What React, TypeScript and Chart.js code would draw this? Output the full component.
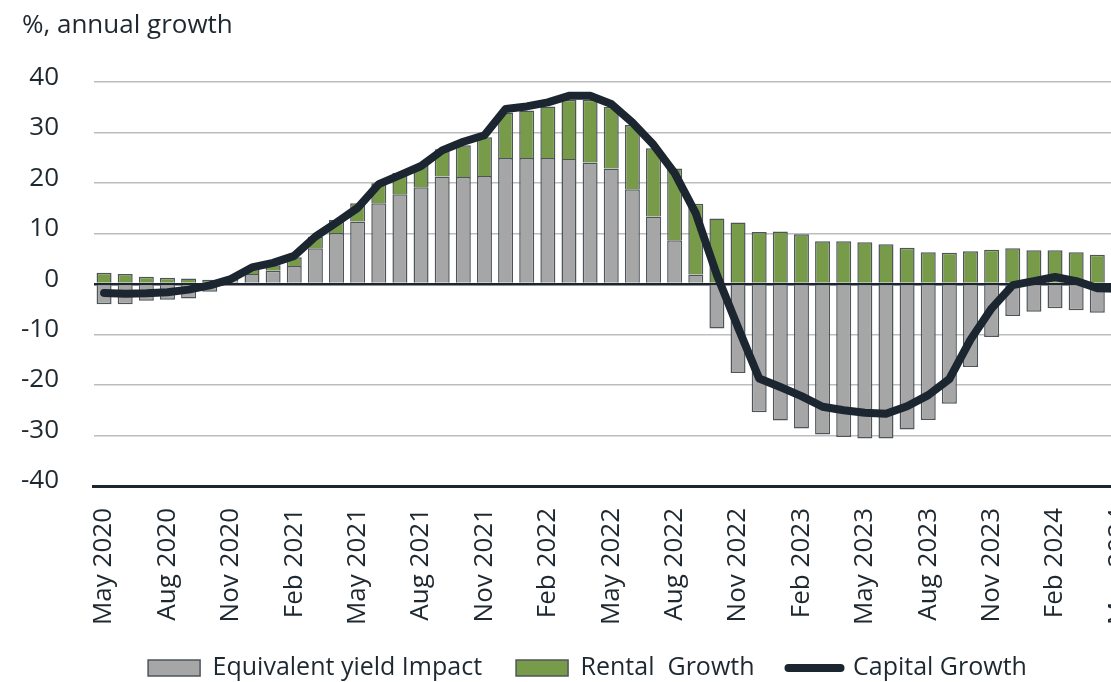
import React, { useEffect, useRef } from "react";
import { Chart, registerables } from "chart.js";

Chart.register(...registerables);

const months = [
  "May 2020", "Jun 2020", "Jul 2020", "Aug 2020", "Sep 2020", "Oct 2020", "Nov 2020", "Dec 2020",
  "Jan 2021", "Feb 2021", "Mar 2021", "Apr 2021", "May 2021", "Jun 2021", "Jul 2021", "Aug 2021",
  "Sep 2021", "Oct 2021", "Nov 2021", "Dec 2021", "Jan 2022", "Feb 2022", "Mar 2022", "Apr 2022",
  "May 2022", "Jun 2022", "Jul 2022", "Aug 2022", "Sep 2022", "Oct 2022", "Nov 2022", "Dec 2022",
  "Jan 2023", "Feb 2023", "Mar 2023", "Apr 2023", "May 2023", "Jun 2023", "Jul 2023", "Aug 2023",
  "Sep 2023", "Oct 2023", "Nov 2023", "Dec 2023", "Jan 2024", "Feb 2024", "Mar 2024", "Apr 2024",
  "May 2024",
];

const yieldImpact = [
  -4.0, -4.0, -3.3, -3.1, -2.85, -1.5, 0.45, 2.0, 2.65, 3.6,
  7.1, 10.1, 12.4, 16.0, 17.8, 19.2, 21.3, 21.2, 21.4, 25.0,
  25.0, 25.0, 24.8, 24.1, 22.9, 18.8, 13.4, 8.7, 1.9, -8.8,
  -17.6, -25.4, -27.0, -28.6, -29.8, -30.3, -30.6, -30.6, -28.8, -26.9,
  -23.7, -16.4, -10.5, -6.3, -5.5, -4.8, -5.2, -5.7, -5.6,
];

const rentalGrowth = [
  2.25, 2.0, 1.45, 1.25, 1.1, 0.85, 0.65, 1.0, 1.1, 1.7,
  2.3, 2.6, 3.6, 4.0, 4.2, 4.4, 5.4, 6.3, 7.7, 9.0,
  9.4, 10.2, 11.7, 12.4, 12.2, 12.7, 13.5, 14.2, 14.0, 13.0,
  12.2, 10.3, 10.4, 9.9, 8.5, 8.5, 8.3, 7.9, 7.2, 6.3,
  6.2, 6.5, 6.8, 7.1, 6.7, 6.7, 6.3, 5.8, 5.6,
];

const capitalGrowth = [
  -1.75, -1.9, -1.8, -1.6, -1.1, -0.25, 1.0, 3.3, 4.2, 5.6,
  9.4, 12.2, 15.1, 19.8, 21.6, 23.4, 26.5, 28.2, 29.5, 34.7,
  35.2, 36.0, 37.3, 37.3, 35.7, 32.0, 27.6, 22.0, 14.0, 1.8,
  -8.6, -18.7, -20.4, -22.2, -24.3, -25.0, -25.5, -25.7, -24.2, -22.0,
  -18.8, -11.0, -4.8, -0.2, 0.6, 1.4, 0.6, -0.8, -0.9,
];

const seriesNames = ["Equivalent yield Impact", "Rental  Growth", "Capital Growth"];
const titleText = "%, annual growth";

const FONT = "'Open Sans', 'Noto Sans', sans-serif";
const TEXT = "#1e2830";
const GRAY = "#a6a6a6";
const GREEN = "#789b49";
const DARK = "#1c2630";
const BAR_BORDER = "#4d555b";

const CANVAS_W = 1180;
const CANVAS_H = 682;

const legendShift = {
  id: "legendShift",
  afterLayout(chart: any) {
    const lg = chart.legend;
    if (!lg) return;
    const dx = 12;
    const dy = -14.5;
    lg.left += dx;
    lg.right += dx;
    lg.top += dy;
    lg.bottom = chart.height;
  },
};

export default function App() {
  const ref = useRef<HTMLCanvasElement | null>(null);

  useEffect(() => {
    if (!ref.current) return;
    const chart = new Chart(ref.current, {
      type: "bar",
      data: {
        labels: months,
        datasets: [
          {
            type: "bar",
            label: seriesNames[0],
            data: yieldImpact,
            backgroundColor: GRAY,
            borderColor: BAR_BORDER,
            borderWidth: 1.5,
            stack: "s",
            order: 1,
            barPercentage: 0.71,
            categoryPercentage: 1.0,
          },
          {
            type: "bar",
            label: seriesNames[1],
            data: rentalGrowth,
            backgroundColor: GREEN,
            borderColor: BAR_BORDER,
            borderWidth: 1.5,
            stack: "s",
            order: 2,
            barPercentage: 0.71,
            categoryPercentage: 1.0,
          },
          {
            type: "line",
            label: seriesNames[2],
            data: capitalGrowth,
            borderColor: DARK,
            backgroundColor: DARK,
            borderWidth: 8,
            pointRadius: 0,
            tension: 0,
            borderJoinStyle: "round",
            borderCapStyle: "round",
            stack: "line",
            order: 0,
          } as any,
        ],
      },
      options: {
        responsive: false,
        animation: false,
        layout: { padding: { left: 22, right: CANVAS_W - 1129, top: 0, bottom: 0 } },
        plugins: {
          tooltip: { enabled: false },
          title: {
            display: true,
            text: titleText,
            align: "start",
            color: TEXT,
            font: { family: FONT, size: 26, weight: "normal" },
            padding: { top: 10, bottom: 41 },
          },
          legend: {
            position: "bottom",
            maxHeight: 46,
            labels: {
              usePointStyle: true,
              pointStyleWidth: 52,
              boxHeight: 16,
              padding: 34,
              color: TEXT,
              font: { family: FONT, size: 25 },
              generateLabels: () => [
                {
                  text: seriesNames[0],
                  fillStyle: GRAY,
                  strokeStyle: BAR_BORDER,
                  lineWidth: 1.5,
                  pointStyle: "rect",
                  datasetIndex: 0,
                  hidden: false,
                  fontColor: TEXT,
                },
                {
                  text: seriesNames[1],
                  fillStyle: GREEN,
                  strokeStyle: BAR_BORDER,
                  lineWidth: 1.5,
                  pointStyle: "rect",
                  datasetIndex: 1,
                  hidden: false,
                  fontColor: TEXT,
                },
                {
                  text: seriesNames[2],
                  fillStyle: DARK,
                  strokeStyle: DARK,
                  lineWidth: 8,
                  lineCap: "round",
                  pointStyle: "line",
                  datasetIndex: 2,
                  hidden: false,
                  fontColor: TEXT,
                },
              ] as any,
            },
          },
        },
        scales: {
          x: {
            stacked: true,
            grid: { display: false, drawTicks: false },
            border: { display: true, color: DARK, width: 3 },
            ticks: {
              autoSkip: false,
              maxRotation: 90,
              minRotation: 90,
              padding: 22,
              color: TEXT,
              font: { family: FONT, size: 26 },
              callback: (_v: any, idx: number) => (idx % 3 === 0 ? months[idx] : ""),
            },
            afterFit: (scale: any) => {
              scale.height = 150;
            },
          },
          y: {
            stacked: true,
            min: -40,
            max: 40,
            border: { display: false },
            grid: {
              drawTicks: false,
              color: (c: any) => (c.tick && c.tick.value === 0 ? DARK : "#bdbdbd"),
              lineWidth: (c: any) => (c.tick && c.tick.value === 0 ? 2.5 : 1.5),
            },
            ticks: {
              stepSize: 10,
              padding: 34.5,
              labelOffset: -5,
              color: TEXT,
              font: { family: FONT, size: 26 },
            },
            afterFit: (scale: any) => {
              scale.width = 71.5;
            },
          },
        },
      },
      plugins: [legendShift],
    });
    return () => chart.destroy();
  }, []);

  return (
    <div
      style={{
        position: "absolute",
        left: 0,
        top: 0,
        width: 1111,
        height: 682,
        overflow: "hidden",
        background: "#ffffff",
      }}
    >
      <canvas
        ref={ref}
        width={CANVAS_W}
        height={CANVAS_H}
        style={{ width: CANVAS_W, height: CANVAS_H, display: "block" }}
      />
    </div>
  );
}
